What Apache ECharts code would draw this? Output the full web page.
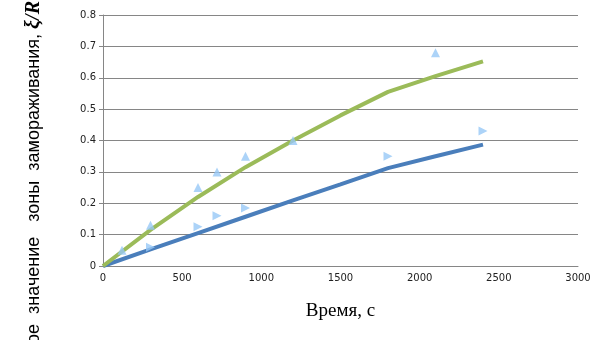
<!DOCTYPE html>
<html>
<head>
<meta charset="utf-8">
<script src="https://cdn.jsdelivr.net/npm/echarts@6/dist/echarts.min.js"></script>
<style>html,body{margin:0;padding:0;background:#fff;}#c{width:605px;height:340px;}</style>
</head>
<body>
<div id="c"></div>
<script>
const greenLineX = [0, 300, 600, 900, 1200, 1500, 1800, 2100, 2400];
const greenLineY = [0, 0.115, 0.22, 0.315, 0.40, 0.48, 0.555, 0.605, 0.652];
const blueLineX = [0, 300, 600, 900, 1200, 1500, 1800, 2100, 2400];
const blueLineY = [0, 0.053, 0.105, 0.157, 0.209, 0.26, 0.312, 0.35, 0.387];
const upMarkX = [120, 300, 600, 720, 900, 1200, 2100];
const upMarkY = [0.05, 0.13, 0.25, 0.30, 0.35, 0.40, 0.68];
const rightMarkX = [300, 600, 720, 900, 1800, 2400];
const rightMarkY = [0.06, 0.125, 0.16, 0.185, 0.35, 0.43];
const xTicks = [0, 500, 1000, 1500, 2000, 2500, 3000];
const yTicks = [0, 0.1, 0.2, 0.3, 0.4, 0.5, 0.6, 0.7, 0.8];

const zip = (xs, ys) => xs.map((x, i) => [x, ys[i]]);
const chart = echarts.init(document.getElementById('c'), null, {renderer: 'canvas'});
const markerColor = '#97c8f6';
chart.setOption({
  animation: false,
  grid: {left: 103, right: 27, top: 15, bottom: 74},
  xAxis: {
    type: 'value', min: xTicks[0], max: xTicks[xTicks.length - 1], interval: 500,
    axisLine: {show: true, lineStyle: {color: '#868686', width: 1}},
    axisTick: {show: false},
    splitLine: {show: false},
    axisLabel: {margin: 7, color: '#222', fontFamily: 'DejaVu Sans', fontSize: 10,
      formatter: v => String(v)},
    name: 'Время, с', nameLocation: 'middle', nameGap: 36,
    nameTextStyle: {fontFamily: 'Liberation Serif', fontSize: 19, color: '#000'}
  },
  yAxis: {
    type: 'value', min: yTicks[0], max: yTicks[yTicks.length - 1], interval: 0.1,
    axisLine: {show: true, lineStyle: {color: '#868686', width: 1}},
    axisTick: {show: true, inside: false, length: 4, lineStyle: {color: '#868686'}},
    splitLine: {show: true, lineStyle: {color: '#868686', width: 1}},
    axisLabel: {margin: 7, color: '#222', fontFamily: 'DejaVu Sans', fontSize: 10,
      formatter: v => String(Math.round(v * 10) / 10)}
  },
  graphic: [{
    type: 'text', x: 34, y: 1, rotation: Math.PI / 2,
    style: {
      text: '{a|ое  значение   зоны  замораживания, }{b|ξ/R}',
      align: 'right', verticalAlign: 'middle',
      rich: {
        a: {fontFamily: 'Liberation Sans', fontSize: 18, fill: '#000'},
        b: {fontFamily: 'Liberation Serif', fontSize: 20, fontWeight: 'bold', fontStyle: 'italic', fill: '#000'}
      }
    }
  }],
  series: [
    {type: 'line', data: zip(blueLineX, blueLineY), showSymbol: false, lineStyle: {color: '#4a7ebb', width: 4}, z: 2},
    {type: 'line', data: zip(greenLineX, greenLineY), showSymbol: false, lineStyle: {color: '#9bbb59', width: 4}, z: 2},
    {type: 'scatter', data: zip(upMarkX, upMarkY), symbol: 'triangle', symbolSize: 9, itemStyle: {color: markerColor}, z: 3},
    {type: 'scatter', data: zip(rightMarkX, rightMarkY), symbol: 'triangle', symbolRotate: -90, symbolSize: 9, itemStyle: {color: markerColor}, z: 3}
  ]
});
</script>
</body>
</html>
